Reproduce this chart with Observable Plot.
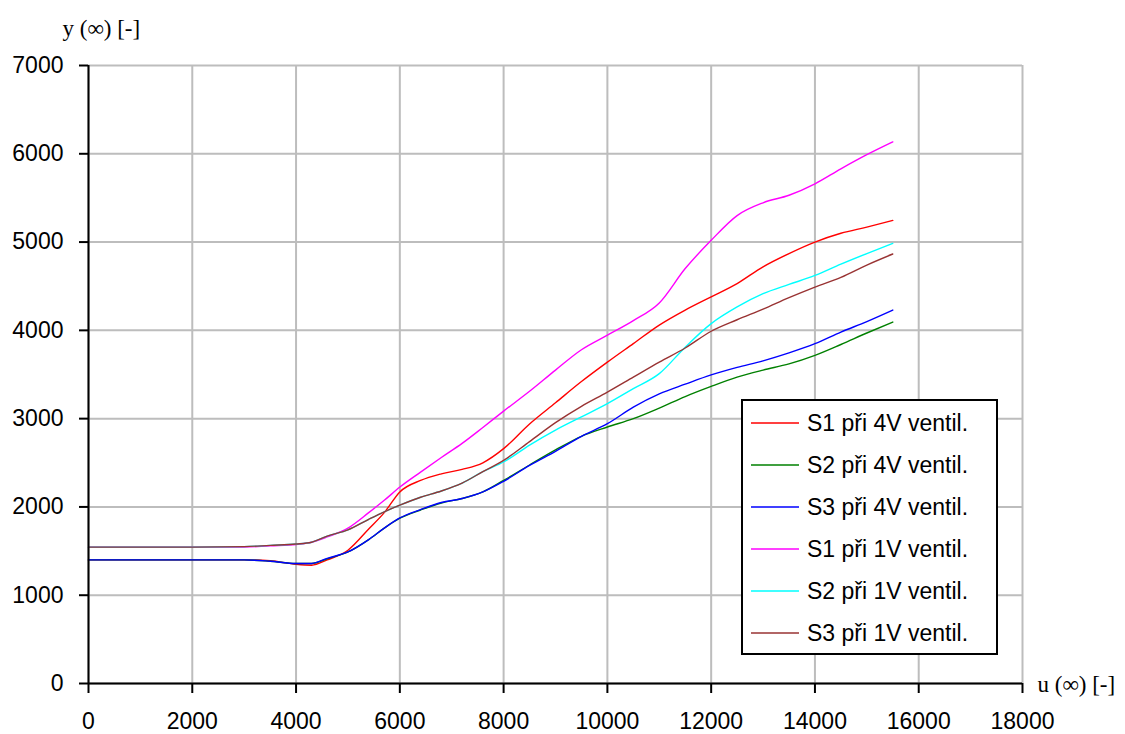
<!DOCTYPE html>
<html>
<head>
<meta charset="utf-8">
<script src="https://cdn.jsdelivr.net/npm/d3@7"></script>
<script src="https://cdn.jsdelivr.net/npm/@observablehq/plot@0.6"></script>
<style>
  html, body { margin: 0; padding: 0; background: #ffffff; }
  #chart { width: 1125px; height: 734px; }
</style>
</head>
<body>
<div id="chart"></div>
<script>
// ---- data ----
const xs = [0, 1000, 2000, 3000, 3500, 4000, 4300, 4600, 5000, 5400, 5700, 6000, 6400, 6800, 7200, 7600, 8000, 8500, 9000, 9500, 10000, 10500, 11000, 11500, 12000, 12500, 13000, 13500, 14000, 14500, 15000, 15500];

const seriesNames = ["S1 při 4V ventil.", "S2 při 4V ventil.", "S3 při 4V ventil.", "S1 při 1V ventil.", "S2 při 1V ventil.", "S3 při 1V ventil."];
const seriesColors = ["#ff0000", "#008000", "#0000ff", "#ff00ff", "#00ffff", "#993333"];

const s1_4V = [1400, 1400, 1400, 1400, 1390, 1350, 1340, 1400, 1510, 1750, 1935, 2170, 2300, 2375, 2425, 2500, 2660, 2940, 3180, 3420, 3640, 3850, 4060, 4230, 4380, 4530, 4720, 4870, 5000, 5100, 5170, 5245];
const s2_4V = [1400, 1400, 1400, 1400, 1385, 1360, 1360, 1412, 1490, 1630, 1760, 1872, 1965, 2045, 2095, 2170, 2300, 2475, 2645, 2800, 2905, 3000, 3120, 3250, 3365, 3470, 3550, 3620, 3717, 3840, 3970, 4094];
const s3_4V = [1400, 1400, 1400, 1400, 1385, 1360, 1360, 1418, 1490, 1630, 1760, 1875, 1970, 2050, 2095, 2170, 2290, 2470, 2630, 2800, 2943, 3130, 3280, 3390, 3495, 3580, 3655, 3745, 3849, 3980, 4100, 4230];
const s1_1V = [1545, 1545, 1545, 1545, 1560, 1575, 1600, 1660, 1760, 1935, 2075, 2225, 2395, 2560, 2720, 2900, 3085, 3310, 3550, 3780, 3945, 4110, 4310, 4700, 5020, 5300, 5445, 5530, 5660, 5830, 5990, 6135];
const s2_1V = [1545, 1545, 1545, 1550, 1565, 1580, 1600, 1670, 1740, 1860, 1945, 2020, 2110, 2180, 2270, 2400, 2509, 2700, 2870, 3020, 3170, 3340, 3510, 3810, 4076, 4265, 4415, 4520, 4622, 4750, 4870, 4985];
const s3_1V = [1545, 1545, 1545, 1550, 1565, 1580, 1600, 1670, 1740, 1860, 1945, 2020, 2110, 2180, 2270, 2400, 2528, 2740, 2955, 3140, 3300, 3470, 3640, 3800, 3990, 4120, 4240, 4370, 4490, 4600, 4740, 4865];

const seriesValues = [s1_4V, s2_4V, s3_4V, s1_1V, s2_1V, s3_1V];

const xTicks = [0, 2000, 4000, 6000, 8000, 10000, 12000, 14000, 16000, 18000];
const yTicks = [0, 1000, 2000, 3000, 4000, 5000, 6000, 7000];
const yLabel = "y (∞) [-]";
const xLabel = "u (∞) [-]";

// ---- build table ----
const rows = [];
seriesNames.forEach((name, i) => {
  xs.forEach((x, j) => rows.push({series: name, x, y: seriesValues[i][j]}));
});

const gridColor = "#bdbdbd";

const svg = Plot.plot({
  width: 1125,
  height: 734,
  marginTop: 65,
  marginBottom: 51,
  marginLeft: 88,
  marginRight: 103,
  style: {
    fontFamily: "'Liberation Sans', Arial, sans-serif",
    fontSize: "23px",
    color: "#000",
    background: "#ffffff",
    overflow: "visible"
  },
  x: {domain: [0, 18000]},
  y: {domain: [0, 7000]},
  color: {domain: seriesNames, range: seriesColors},
  marks: [
    Plot.gridX(xTicks, {stroke: gridColor, strokeOpacity: 1, strokeWidth: 2}),
    Plot.gridY(yTicks, {stroke: gridColor, strokeOpacity: 1, strokeWidth: 2}),
    Plot.line(rows, {x: "x", y: "y", z: "series", stroke: "series", strokeWidth: 1.4, curve: "monotone-x"}),
    Plot.ruleX([0], {stroke: "#000", strokeWidth: 2}),
    Plot.ruleY([0], {stroke: "#000", strokeWidth: 2}),
    Plot.axisX(xTicks, {tickSize: 10, tickPadding: 19, tickFormat: d => String(d), label: null, strokeWidth: 2, fill: "#000"}),
    Plot.axisY(yTicks, {tickSize: 9, tickPadding: 16, tickFormat: d => String(d), label: null, strokeWidth: 2, fill: "#000"}),
    Plot.text([yLabel], {frameAnchor: "top-left", textAnchor: "start", lineAnchor: "middle", dx: -26, dy: -37,
      fontFamily: "'Liberation Serif', 'Times New Roman', serif", fontSize: 23, fill: "#000"}),
    Plot.text([xLabel], {frameAnchor: "bottom-right", textAnchor: "start", lineAnchor: "middle", dx: 15, dy: 1,
      fontFamily: "'Liberation Serif', 'Times New Roman', serif", fontSize: 23, fill: "#000"})
  ]
});

// ---- legend inside the plot ----
const g = d3.select(svg).append("g").attr("class", "legend").attr("text-anchor", "start");
g.append("rect")
  .attr("x", 742).attr("y", 400).attr("width", 255).attr("height", 254)
  .attr("fill", "#ffffff").attr("stroke", "#000").attr("stroke-width", 2);
seriesNames.forEach((name, i) => {
  const cy = 423 + i * 42;
  g.append("line")
    .attr("x1", 751).attr("x2", 799).attr("y1", cy).attr("y2", cy)
    .attr("stroke", seriesColors[i]).attr("stroke-width", 1.6);
  g.append("text")
    .attr("x", 807).attr("y", cy).attr("dy", "0.35em")
    .attr("text-anchor", "start")
    .attr("font-size", 23).attr("fill", "#000")
    .text(name);
});

document.getElementById("chart").appendChild(svg);
</script>
</body>
</html>
